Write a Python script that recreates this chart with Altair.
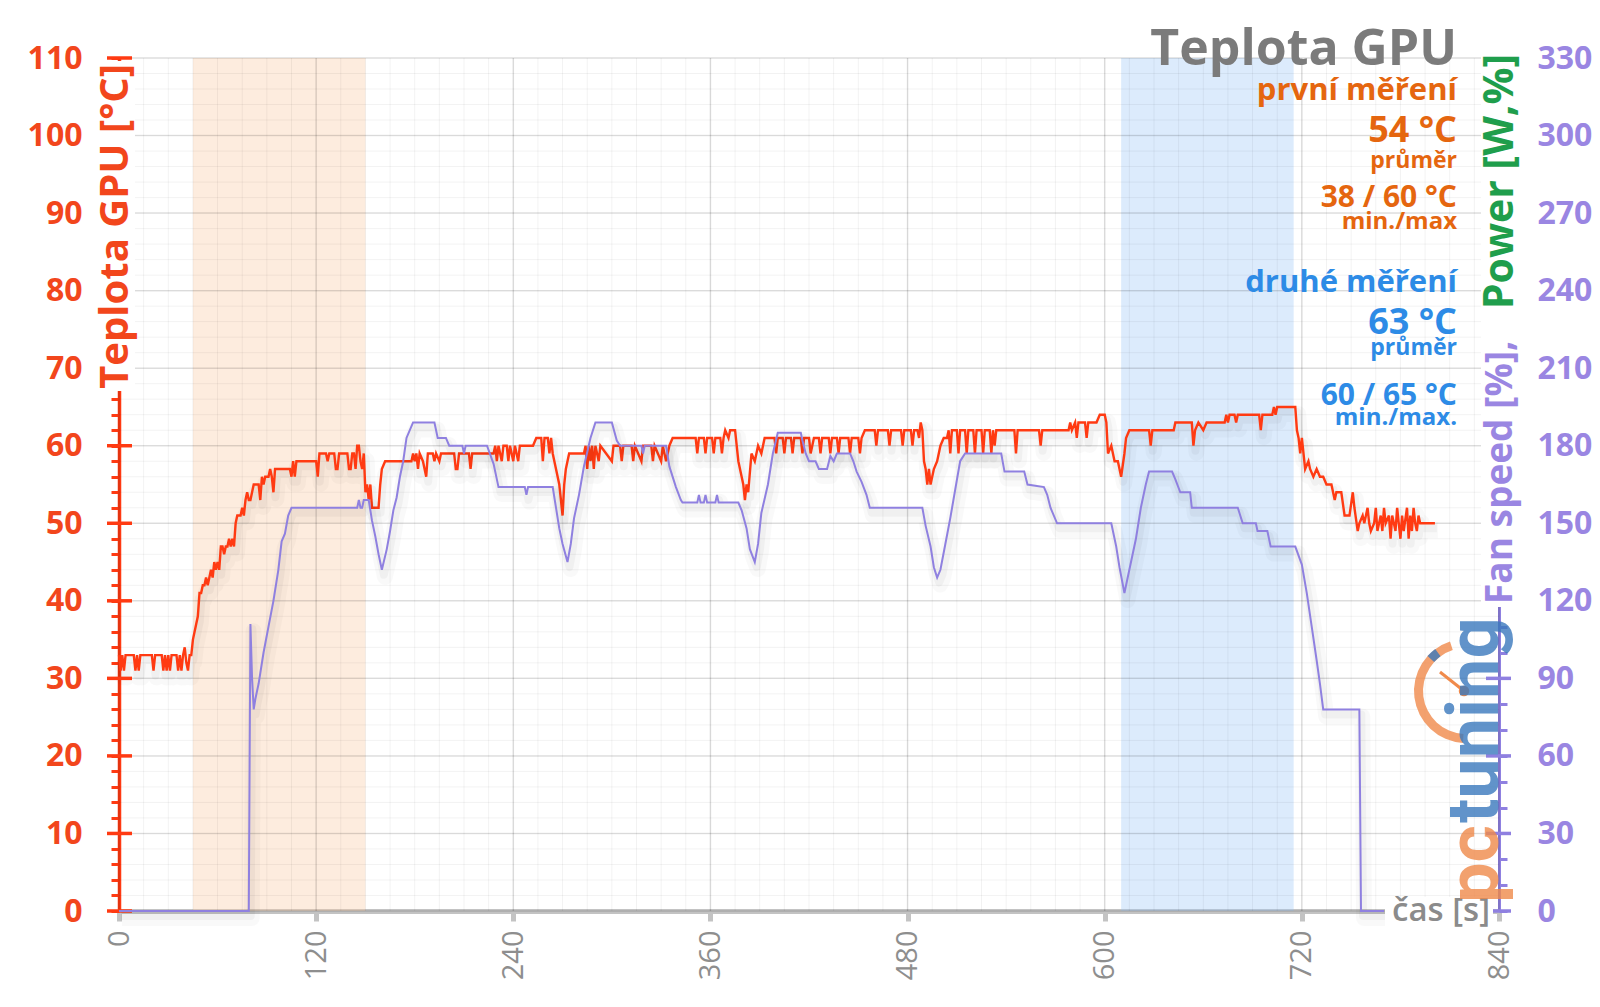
import altair as alt
import pandas as pd

# ---------------- data ----------------
temp_points = [
    (0, 33), (1, 31), (2, 33), (3, 31), (4, 33), (9, 33), (10, 31), (11, 33), (12, 31), (13, 33),
    (20, 33), (21, 31), (22, 33), (26, 33), (27, 31), (28, 33), (29, 31), (30, 33), (31, 31), (32, 33),
    (35, 33), (36, 31), (37, 33), (38, 31), (39, 33), (40, 34), (41, 32), (42, 31), (43, 33), (44, 33),
    (45, 35), (47, 37), (48, 38), (49, 41), (50, 41), (51, 42), (52, 42), (53, 43), (54, 42), (55, 43),
    (56, 44), (57, 43), (58, 45), (59, 44), (60, 45), (61, 44), (62, 47), (63, 47), (64, 46), (65, 47),
    (66, 47), (67, 48), (68, 47), (69, 48), (70, 47), (71, 50), (72, 51), (74, 51), (75, 52), (76, 51),
    (77, 53), (78, 54), (79, 53), (80, 53), (81, 54), (82, 55), (85, 55), (86, 53), (87, 56), (88, 55),
    (89, 56), (91, 56), (92, 57), (93, 56), (94, 54), (95, 57), (104, 57), (105, 56), (106, 58), (107, 56),
    (108, 58), (120, 58), (121, 56), (122, 59), (126, 59), (127, 58), (128, 59), (131, 59), (132, 57),
    (133, 57), (134, 59), (139, 59), (140, 57), (141, 57), (142, 59), (143, 59), (144, 57), (145, 60),
    (146, 60), (147, 58), (148, 57), (149, 59), (150, 54), (151, 55), (152, 53), (153, 55), (154, 52),
    (158, 52), (159, 55), (160, 57), (162, 58),
    (178, 58), (179, 59), (180, 58), (181, 59), (182, 57), (183, 59), (185, 58), (187, 56), (188, 59),
    (191, 59), (192, 58), (193, 59), (195, 58), (196, 59), (204, 59), (205, 57), (206, 57), (207, 59),
    (213, 59), (214, 57), (215, 59), (228, 59), (229, 60), (230, 58), (231, 60), (233, 58), (234, 60),
    (236, 60), (237, 58), (238, 60), (240, 58), (241, 60), (243, 58), (244, 60), (252, 60), (254, 61),
    (257, 61), (258, 58), (259, 61), (261, 61), (262, 59), (263, 61), (264, 59), (266, 57), (268, 55),
    (270, 51), (271, 55), (272, 57), (274, 59), (283, 59), (284, 60), (285, 57), (286, 60), (287, 58),
    (288, 60), (289, 57), (290, 60), (292, 58), (293, 60),
    (300, 58), (301, 60), (305, 60), (306, 58), (307, 60), (312, 60), (313, 58), (314, 60), (318, 58),
    (319, 60), (324, 60), (325, 58), (326, 60), (330, 58),
    (331, 60), (333, 58), (335, 60), (337, 61), (340, 61), (351, 61), (352, 59), (353, 61), (356, 61),
    (357, 59), (358, 61), (361, 61), (362, 59), (363, 61), (366, 61), (367, 59), (368, 61),
    (369, 62), (371, 61), (372, 62), (375, 62), (377, 58), (379, 56), (380, 55), (381, 53), (382, 55),
    (383, 54), (385, 59), (387, 58), (389, 60), (391, 59), (393, 61), (399, 61), (400, 59), (401, 61),
    (404, 61), (405, 59), (406, 61), (409, 61), (410, 59), (411, 61), (415, 61),
    (416, 59), (417, 61), (420, 61), (421, 59), (423, 61), (426, 61), (427, 59), (428, 61), (432, 61),
    (433, 59), (434, 61), (437, 61), (438, 59), (439, 61), (444, 61), (445, 59), (446, 61), (450, 61),
    (451, 59), (452, 61), (454, 62), (460, 62), (461, 60), (462, 62), (468, 62),
    (469, 60), (470, 62), (476, 62), (477, 60), (478, 62), (482, 62), (483, 60),
    (484, 62), (486, 62), (487, 61), (488, 63), (489, 62), (490, 58), (491, 57), (492, 55), (493, 57),
    (494, 55), (496, 57), (498, 58), (500, 60), (502, 61), (504, 61), (505, 62), (506, 59), (507, 62),
    (510, 62), (511, 59), (512, 62), (515, 62), (516, 59), (517, 62), (520, 62), (521, 59),
    (522, 62), (525, 62), (526, 59), (527, 62), (530, 62), (531, 59), (532, 62), (533, 60), (534, 62),
    (545, 62), (546, 59), (547, 62), (560, 62), (561, 60), (562, 62), (578, 62), (579, 63), (580, 62),
    (582, 63), (583, 61), (584, 63), (588, 63), (589, 61), (590, 63), (595, 63), (597, 64), (600, 64),
    (601, 63), (602, 59), (604, 60), (606, 58), (608, 58), (610, 56), (612, 59), (613, 61), (615, 62),
    (627, 62), (628, 60), (629, 62), (642, 62), (643, 63), (653, 63), (654, 60), (655, 62), (657, 63),
    (660, 62), (662, 63), (673, 63), (674, 64), (675, 63), (676, 64), (679, 64), (680, 63), (681, 64),
    (694, 64), (695, 62), (696, 64), (702, 64), (703, 65), (704, 64), (705, 65), (716, 65), (717, 62),
    (718, 61), (719, 59), (720, 61), (722, 57), (724, 58), (725, 57), (727, 56), (729, 57), (731, 56),
    (733, 56), (735, 55), (738, 55), (740, 53), (741, 54), (744, 54), (746, 51), (749, 51), (751, 54),
    (752, 52), (754, 49), (755, 50), (757, 51), (758, 50), (760, 52), (761, 50), (762, 49), (764, 50),
    (765, 52), (766, 49), (768, 51), (769, 49), (770, 52), (771, 50), (773, 51), (774, 48), (775, 51),
    (777, 49), (778, 52), (779, 50), (780, 48), (781, 51), (782, 49), (784, 52), (785, 48), (786, 51),
    (787, 49), (788, 52), (789, 50), (790, 49), (791, 51), (792, 50), (793, 50), (801, 50),
]

fan_points = [
    (0, 0), (79, 0), (80, 111), (81, 90), (82, 78), (83, 82), (85, 88), (88, 100), (91, 110), (94, 120),
    (97, 132), (99, 143), (101, 146), (103, 153), (105, 156), (145, 156), (146, 159), (147, 156),
    (148, 156), (149, 159), (152, 159), (154, 151), (156, 145), (158, 138), (160, 132), (163, 140),
    (165, 147), (167, 155), (169, 160), (171, 168), (173, 174), (175, 183), (179, 189), (192, 189),
    (194, 183), (199, 183), (201, 180), (209, 180), (210, 177), (211, 180), (224, 180), (228, 173),
    (231, 164), (247, 164), (248, 161), (249, 164), (264, 164), (266, 156), (268, 148), (270, 142),
    (273, 135), (275, 142), (277, 152), (280, 161), (283, 172), (287, 183), (290, 189), (300, 189),
    (303, 182), (305, 180), (318, 180), (319, 177), (320, 180), (333, 180), (335, 172), (339, 164),
    (342, 159), (343, 158), (352, 158), (353, 161), (354, 158), (356, 158), (357, 161), (358, 158),
    (363, 158), (364, 161), (365, 158), (377, 158), (379, 155), (382, 148), (384, 140), (387, 135),
    (389, 142), (391, 154), (395, 165), (398, 177), (401, 185), (415, 185), (416, 182), (418, 177),
    (420, 174), (424, 174), (426, 171), (431, 171), (433, 176), (435, 174), (437, 177), (445, 177),
    (447, 174), (449, 170), (452, 166), (455, 161), (457, 156), (489, 156), (491, 149), (494, 141),
    (496, 133), (498, 129), (500, 132), (503, 142), (506, 152), (509, 163), (512, 174), (515, 177),
    (537, 177), (539, 170), (551, 170), (553, 165), (563, 164), (565, 161), (567, 156), (571, 150),
    (604, 150), (607, 141), (609, 133), (612, 123), (615, 132), (619, 144), (622, 156), (625, 165),
    (627, 170), (641, 170), (643, 167), (646, 162), (652, 162), (653, 156), (681, 156), (684, 150),
    (692, 150), (693, 147), (699, 147), (701, 141), (716, 141), (720, 134), (723, 123), (726, 110),
    (729, 97), (731, 88), (733, 78), (755, 78), (756, 0), (770, 0),
]

band_start = [45, 610]
band_end = [150, 715]
band_name = ["první měření", "druhé měření"]

x_ticks = list(range(0, 841, 120))
x_minor = list(range(0, 841, 15))
y_major = list(range(0, 111, 10))
y_minor = list(range(0, 111, 2))
fan_major = list(range(0, 331, 30))
fan_minor = list(range(0, 331, 10))

chart_title = "Teplota GPU"
first_lines = ["první měření", "54 °C", "průměr", "38 / 60 °C", "min./max"]
second_lines = ["druhé měření", "63 °C", "průměr", "60 / 65 °C", "min./max."]
left_title = "Teplota GPU [°C]"
right_title_a = "Fan speed [%],"
right_title_b = "Power [W,%]"
x_title = "čas [s]"
logo_a, logo_b = "pc", "tuning"

# ---------------- styling ----------------
W, H = 1380, 853
FONT = "Open Sans"
RED_LINE = "#ff3a12"
RED_TXT = "#f2461c"
PURPLE_LINE = "#8f80e0"
PURPLE_TXT = "#9a86e2"
GREEN_TXT = "#1f9e4c"
ORANGE_TXT = "#e5660f"
BLUE_TXT = "#2d8be6"
GRAY_TXT = "#7b7b7b"
AXIS_GRAY = "#c3c3c3"
LOGO_ORANGE = "#f08a4b"
LOGO_BLUE = "#3a79bd"

xscale = alt.Scale(domain=[0, 840], nice=False, zero=False)
tscale = alt.Scale(domain=[0, 110], nice=False, zero=False)
fscale = alt.Scale(domain=[0, 330], nice=False, zero=False)

temp_df = pd.DataFrame(temp_points, columns=["t", "v"])
fan_df = pd.DataFrame(fan_points, columns=["t", "v"])
band_df = pd.DataFrame({"start": band_start, "end": band_end, "name": band_name})


def X(field="t", axis=None):
    if axis is None:
        return alt.X(f"{field}:Q", scale=xscale, title=None)
    return alt.X(f"{field}:Q", scale=xscale, axis=axis, title=None)


def YT(field="v", axis=None):
    return alt.Y(f"{field}:Q", scale=tscale, axis=axis, title=None)


def YF(field="v", axis=None):
    return alt.Y(f"{field}:Q", scale=fscale, axis=axis, title=None)


x_axis = alt.Axis(values=x_ticks, labelAngle=270, labelFont=FONT, labelFontSize=29,
                  labelColor="#8e8e8e", labelPadding=9, labelFlush=False, labelOverlap=False,
                  tickSize=10, tickWidth=5, tickColor=AXIS_GRAY, domainColor=AXIS_GRAY,
                  domainWidth=5, grid=False, orient="bottom", zindex=0)

left_axis = alt.Axis(orient="left", values=y_minor,
                     labelExpr="datum.value % 10 === 0 ? datum.label : ''",
                     labelFont=FONT, labelFontSize=32, labelFontWeight="bold", labelColor=RED_TXT,
                     labelPadding=29, labelOverlap=False, tickSize=8, tickWidth=3,
                     tickColor=RED_LINE, domainColor=RED_LINE, domainWidth=3.5, grid=False,
                     zindex=0)

right_axis = alt.Axis(orient="right", values=fan_minor,
                      labelExpr="datum.value % 30 === 0 ? datum.label : ''",
                      labelFont=FONT, labelFontSize=32, labelFontWeight="bold",
                      labelColor=PURPLE_TXT, labelPadding=30, labelOverlap=False, tickSize=8,
                      tickWidth=3, tickColor=PURPLE_LINE, domainColor=PURPLE_LINE,
                      domainWidth=3, grid=False, zindex=0)

# ---------------- temperature layers ----------------
bands = alt.Chart(band_df).mark_rect(opacity=0.35).encode(
    x=X("start"), x2="end:Q", y=alt.value(0), y2=alt.value(H),
    color=alt.Color("name:N", scale=alt.Scale(domain=band_name, range=["#f8c9a0", "#9bc6f6"]),
                    legend=None),
)

gx_minor = alt.Chart(pd.DataFrame({"t": x_minor})).mark_rule(
    color="#000", opacity=0.05, strokeWidth=1).encode(x=X("t"))
gx_major = alt.Chart(pd.DataFrame({"t": x_ticks})).mark_rule(
    color="#000", opacity=0.11, strokeWidth=1.5).encode(x=X("t"))
gy_minor = alt.Chart(pd.DataFrame({"v": y_minor})).mark_rule(
    color="#000", opacity=0.05, strokeWidth=1).encode(y=YT("v"))
gy_major = alt.Chart(pd.DataFrame({"v": y_major})).mark_rule(
    color="#000", opacity=0.10, strokeWidth=1.5).encode(y=YT("v"))

red_sh1 = alt.Chart(temp_df).mark_line(color="#000", opacity=0.025, strokeWidth=16,
                                        yOffset=7, xOffset=3, strokeJoin="round").encode(
    x=X("t"), y=YT("v"))
red_sh2 = alt.Chart(temp_df).mark_line(color="#000", opacity=0.035, strokeWidth=8,
                                        yOffset=5, xOffset=2, strokeJoin="round").encode(
    x=X("t"), y=YT("v"))
red_line = alt.Chart(temp_df).mark_line(color=RED_LINE, strokeWidth=2.4).encode(
    x=X("t", x_axis), y=YT("v", left_axis))

left_cross = alt.Chart(pd.DataFrame({"v": y_major})).mark_rule(
    color=RED_LINE, strokeWidth=3.5).encode(y=YT("v"), x=alt.value(-12), x2=alt.value(13))

# ---------------- fan layers ----------------
fan_sh1 = alt.Chart(fan_df).mark_line(color="#000", opacity=0.025, strokeWidth=16,
                                       yOffset=7, xOffset=3, strokeJoin="round").encode(
    x=X("t"), y=YF("v"))
fan_sh2 = alt.Chart(fan_df).mark_line(color="#000", opacity=0.035, strokeWidth=8,
                                       yOffset=5, xOffset=2, strokeJoin="round").encode(
    x=X("t"), y=YF("v"))
fan_line = alt.Chart(fan_df).mark_line(color=PURPLE_LINE, strokeWidth=2).encode(
    x=X("t"), y=YF("v", right_axis))
right_cross = alt.Chart(pd.DataFrame({"v": fan_major})).mark_rule(
    color=PURPLE_LINE, strokeWidth=3.5).encode(y=YF("v"), x=alt.value(W - 13), x2=alt.value(W + 12))


# ---------------- annotations ----------------
dummy = pd.DataFrame({"a": [0]})


def label(text, x, y, size, color, weight="bold", align="right", angle=0,
          baseline="alphabetic", font=FONT, opacity=1.0):
    base = alt.Chart(pd.DataFrame({"s": [text]}))
    return [base.mark_text(color=color, opacity=opacity, align=align, baseline=baseline,
                           font=font, fontSize=size, fontWeight=weight, angle=angle).encode(
        text="s:N", x=alt.value(x), y=alt.value(y))]


def blank(x1, x2, y1, y2):
    return [alt.Chart(dummy).mark_rect(color="white").encode(
        x=alt.value(x1), x2=alt.value(x2), y=alt.value(y1), y2=alt.value(y2))]


TX = 1338
annots = []
annots += label(chart_title, TX, 7, 50, GRAY_TXT)
sizes = [31, 36, 23, 30, 24]
first_y = [42, 84, 110, 149, 171]
second_y = [234, 276, 297, 347, 367]
for s, y, sz in zip(first_lines, first_y, sizes):
    annots += label(s, TX, y, sz, ORANGE_TXT)
for s, y, sz in zip(second_lines, second_y, sizes):
    annots += label(s, TX, y, sz, BLUE_TXT)

annots += blank(-20, 16, 3, 333)
annots += label(left_title, -3, 6, 40, RED_TXT, angle=270, align="right", baseline="middle")
annots += blank(W - 18, W + 21, -5, 549)
annots += label(right_title_a, W + 2, 546, 37, PURPLE_TXT, angle=270, align="left",
                baseline="middle")
annots += label(right_title_b, W + 2, -4, 41, GREEN_TXT, angle=270, align="right",
                baseline="middle")
annots += blank(1266, 1374, 839, 868)
annots += label(x_title, 1371, H, 33, "#8b8b8b", weight=600, align="right", baseline="middle")

# logo
gauge = alt.Chart(dummy).mark_arc(radius=52, radius2=43, theta=3.2, theta2=5.97,
                                  color=LOGO_ORANGE, opacity=0.8).encode(
    x=alt.value(1347), y=alt.value(633))
gauge_b = alt.Chart(dummy).mark_arc(radius=52, radius2=43, theta=5.45, theta2=5.65,
                                    color=LOGO_BLUE, opacity=0.8).encode(
    x=alt.value(1347), y=alt.value(633))
needle = alt.Chart(dummy).mark_rule(color=LOGO_ORANGE, strokeWidth=3).encode(
    x=alt.value(1345), y=alt.value(633), x2=alt.value(1321), y2=alt.value(614))
dot = alt.Chart(dummy).mark_point(filled=True, size=110, color=LOGO_ORANGE, opacity=1).encode(
    x=alt.value(1345), y=alt.value(633))
annots += [gauge, gauge_b, needle, dot]
annots += label(logo_a, 1379, 845, 72, LOGO_ORANGE, font="Roboto", angle=270, align="left",
                opacity=0.8)
annots += label(logo_b, 1379, 765, 72, LOGO_BLUE, font="Roboto", angle=270, align="left",
                opacity=0.8)

chart = alt.layer(
    bands, gx_minor, gy_minor, gx_major, gy_major,
    red_sh1, red_sh2, left_cross, red_line,
    fan_sh1, fan_sh2, right_cross, fan_line,
    *annots,
).resolve_scale(y="independent").properties(
    width=W, height=H,
    padding={"left": 119, "top": 58, "right": 101, "bottom": 96},
    autosize=alt.AutoSizeParams(type="none"),
    background="white",
).configure_view(stroke=None)

chart.save("out.html", embed_options={"renderer": "svg", "actions": False})
